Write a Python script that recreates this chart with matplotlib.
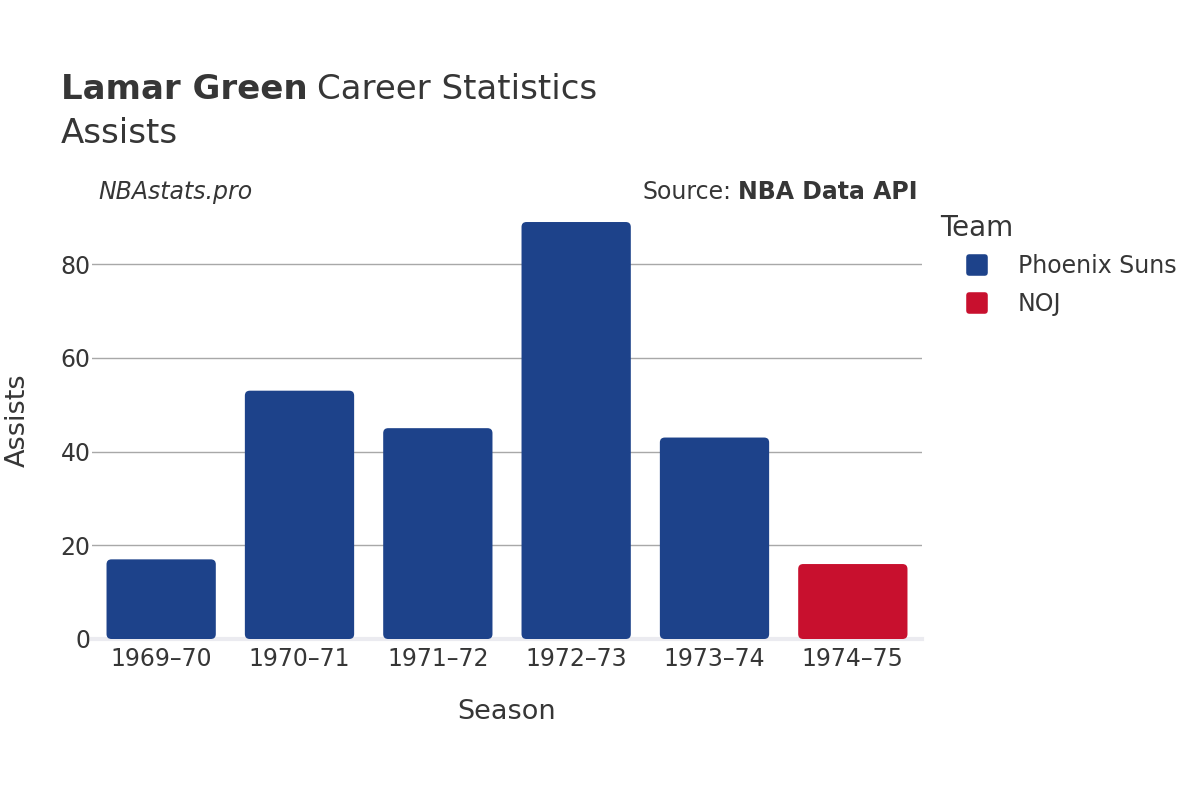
import matplotlib
matplotlib.use("Agg")
import matplotlib.pyplot as plt
from matplotlib.patches import FancyBboxPatch
from matplotlib.lines import Line2D
from matplotlib.markers import MarkerStyle

seasons = ["1969–70", "1970–71", "1971–72", "1972–73", "1973–74", "1974–75"]
assists = [17, 53, 45, 89, 43, 16]
teams = ["Phoenix Suns", "Phoenix Suns", "Phoenix Suns", "Phoenix Suns", "Phoenix Suns", "NOJ"]
team_names = ["Phoenix Suns", "NOJ"]
team_colors = {"Phoenix Suns": "#1d428a", "NOJ": "#c8102e"}
yticks = [0, 20, 40, 60, 80]

TXT = "#363636"
plt.rcParams['font.family'] = ['DejaVu Sans']

fig = plt.figure(figsize=(12, 8), dpi=100)
ax = fig.add_axes([92/1200, 1-639/800, (922-92)/1200, (639-200)/800])

x = list(range(len(seasons)))
bars = ax.bar(x, assists, width=0.79, color=[team_colors[t] for t in teams], zorder=3)
ax.set_xlim(-0.5, 5.5)
ax.set_ylim(0, 93.7)

# rounded corners
for b in bars:
    bx, by = b.get_x(), b.get_y()
    w, h = b.get_width(), b.get_height()
    fb = FancyBboxPatch((bx, by), w, h, boxstyle="round,pad=0,rounding_size=0.036",
                        mutation_aspect=29.5, facecolor=b.get_facecolor(),
                        edgecolor="none", zorder=3)
    b.remove()
    ax.add_patch(fb)

for s in ax.spines.values():
    s.set_visible(False)
ax.set_yticks(yticks)
ax.set_xticks(x)
ax.set_xticklabels(seasons)
ax.tick_params(axis='both', length=0, labelsize=17, labelcolor=TXT)
ax.tick_params(axis='y', pad=1)
ax.tick_params(axis='x', pad=6)
ax.grid(axis='y', color="#a8a8a8", linewidth=1, zorder=0)
ax.axhline(0, color="#ebebf0", linewidth=3, zorder=2, clip_on=False)

ax.set_xlabel("Season", fontsize=19.5, color=TXT, labelpad=20)
fig.text(18/1200, 1-420/800, "Assists", rotation=90, fontsize=19.5, color=TXT,
         ha='center', va='center')

# Title
t1 = fig.text(61/1200, 1-99/800, "Lamar Green", fontsize=24.5, fontweight='bold',
              color=TXT, ha='left', va='baseline')
fig.canvas.draw()
bb = t1.get_window_extent()
fig.text(bb.x1/1200 + 0.008, 1-99/800, "Career Statistics", fontsize=24.5,
         color=TXT, ha='left', va='baseline')
fig.text(61/1200, 1-143/800, "Assists", fontsize=24.5, color=TXT, ha='left', va='baseline')

fig.text(98/1200, 1-192/800, "NBAstats.pro", fontsize=17, style='italic', color=TXT,
         ha='left', va='center')
s2 = fig.text(918/1200, 1-192/800, "NBA Data API", fontsize=17, fontweight='bold',
              color=TXT, ha='right', va='center')
fig.canvas.draw()
bb2 = s2.get_window_extent()
fig.text(bb2.x0/1200 - 0.006, 1-192/800, "Source:", fontsize=17, color=TXT,
         ha='right', va='center')

ms = MarkerStyle('s', joinstyle='round')
handles = [Line2D([], [], linestyle='none', marker=ms, markersize=12,
                  markeredgewidth=4, markerfacecolor=team_colors[t],
                  markeredgecolor=team_colors[t])
           for t in team_names]
leg = fig.legend(handles, team_names, loc='upper left',
                 bbox_to_anchor=(940/1200, 1-214/800), frameon=False,
                 title="Team", title_fontsize=20, fontsize=17,
                 borderpad=0, labelspacing=0.62, handlelength=3.1, handletextpad=0.2,
                 alignment='left', borderaxespad=0)
leg._legend_box.sep = 8.5
for t in leg.get_texts():
    t.set_color(TXT)
leg.get_title().set_color(TXT)

fig.savefig("out.png", dpi=100, facecolor="white")
